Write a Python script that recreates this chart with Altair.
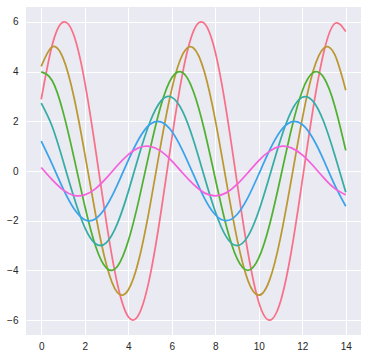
import altair as alt
import pandas as pd

x_vals = [i * 0.5 for i in range(29)]

s1 = [2.88, 5.05, 5.99, 5.46, 3.59, 0.85, -2.10, -4.54, -5.87, -5.75, -4.23, -1.68, 1.29, 3.94, 5.63,
      5.94, 4.79, 2.47, -0.45, -3.26, -5.28, -6.00, -5.25, -3.22, -0.40, 2.52, 4.82, 5.94, 5.61]
s2 = [4.21, 4.99, 4.55, 2.99, 0.71, -1.75, -3.78, -4.89, -4.79, -3.53, -1.40, 1.08, 3.29, 4.69, 4.95,
      3.99, 2.06, -0.38, -2.72, -4.40, -5.00, -4.38, -2.68, -0.33, 2.10, 4.02, 4.95, 4.67, 3.25]
s3 = [3.99, 3.64, 2.39, 0.56, -1.40, -3.03, -3.91, -3.84, -2.82, -1.12, 0.86, 2.63, 3.75, 3.96, 3.19,
      1.65, -0.30, -2.18, -3.52, -4.00, -3.50, -2.15, -0.27, 1.68, 3.22, 3.96, 3.74, 2.60, 0.83]
s4 = [2.73, 1.80, 0.42, -1.05, -2.27, -2.93, -2.88, -2.12, -0.84, 0.65, 1.97, 2.81, 2.97, 2.40, 1.24,
      -0.23, -1.63, -2.64, -3.00, -2.63, -1.61, -0.20, 1.26, 2.41, 2.97, 2.80, 1.95, 0.62, -0.86]
s5 = [1.20, 0.28, -0.70, -1.51, -1.96, -1.92, -1.41, -0.56, 0.43, 1.31, 1.88, 1.98, 1.60, 0.82, -0.15,
      -1.09, -1.76, -2.00, -1.75, -1.07, -0.13, 0.84, 1.61, 1.98, 1.87, 1.30, 0.41, -0.58, -1.42]
s6 = [0.14, -0.35, -0.76, -0.98, -0.96, -0.71, -0.28, 0.22, 0.66, 0.94, 0.99, 0.80, 0.41, -0.08, -0.54,
      -0.88, -1.00, -0.88, -0.54, -0.07, 0.42, 0.80, 0.99, 0.93, 0.65, 0.21, -0.29, -0.71, -0.96]

series_names = ["s1", "s2", "s3", "s4", "s5", "s6"]
series_values = [s1, s2, s3, s4, s5, s6]
colors = ["#f77189", "#bb9832", "#50b131", "#36ada4", "#3ba3ec", "#f561dd"]

rows = []
for name, vals in zip(series_names, series_values):
    for xv, yv in zip(x_vals, vals):
        rows.append({"x": xv, "y": yv, "series": name})
df = pd.DataFrame(rows)

chart = alt.Chart(df).mark_line(strokeWidth=1.75, interpolate="natural").encode(
    x=alt.X("x:Q", scale=alt.Scale(domain=[-0.7, 14.7], nice=False, zero=False),
            axis=alt.Axis(values=[0, 2, 4, 6, 8, 10, 12, 14], title=None, labelPadding=6)),
    y=alt.Y("y:Q", scale=alt.Scale(domain=[-6.6, 6.6], nice=False, zero=False),
            axis=alt.Axis(values=[-6, -4, -2, 0, 2, 4, 6], title=None, labelPadding=8)),
    color=alt.Color("series:N", scale=alt.Scale(domain=series_names, range=colors), legend=None),
).properties(
    width=335, height=328,
    autosize=alt.AutoSizeParams(type="none"),
    padding={"left": 26, "top": 7, "right": 6, "bottom": 21},
    background="white",
).configure_view(
    fill="#EAEAF2", stroke=None,
).configure_axis(
    grid=True, gridColor="white", gridWidth=1, gridOpacity=1,
    domain=False, ticks=False,
    labelFont="Liberation Sans", labelFontSize=10, labelColor="#262626",
)

chart.save("out.html", embed_options={"renderer": "svg", "actions": False})
